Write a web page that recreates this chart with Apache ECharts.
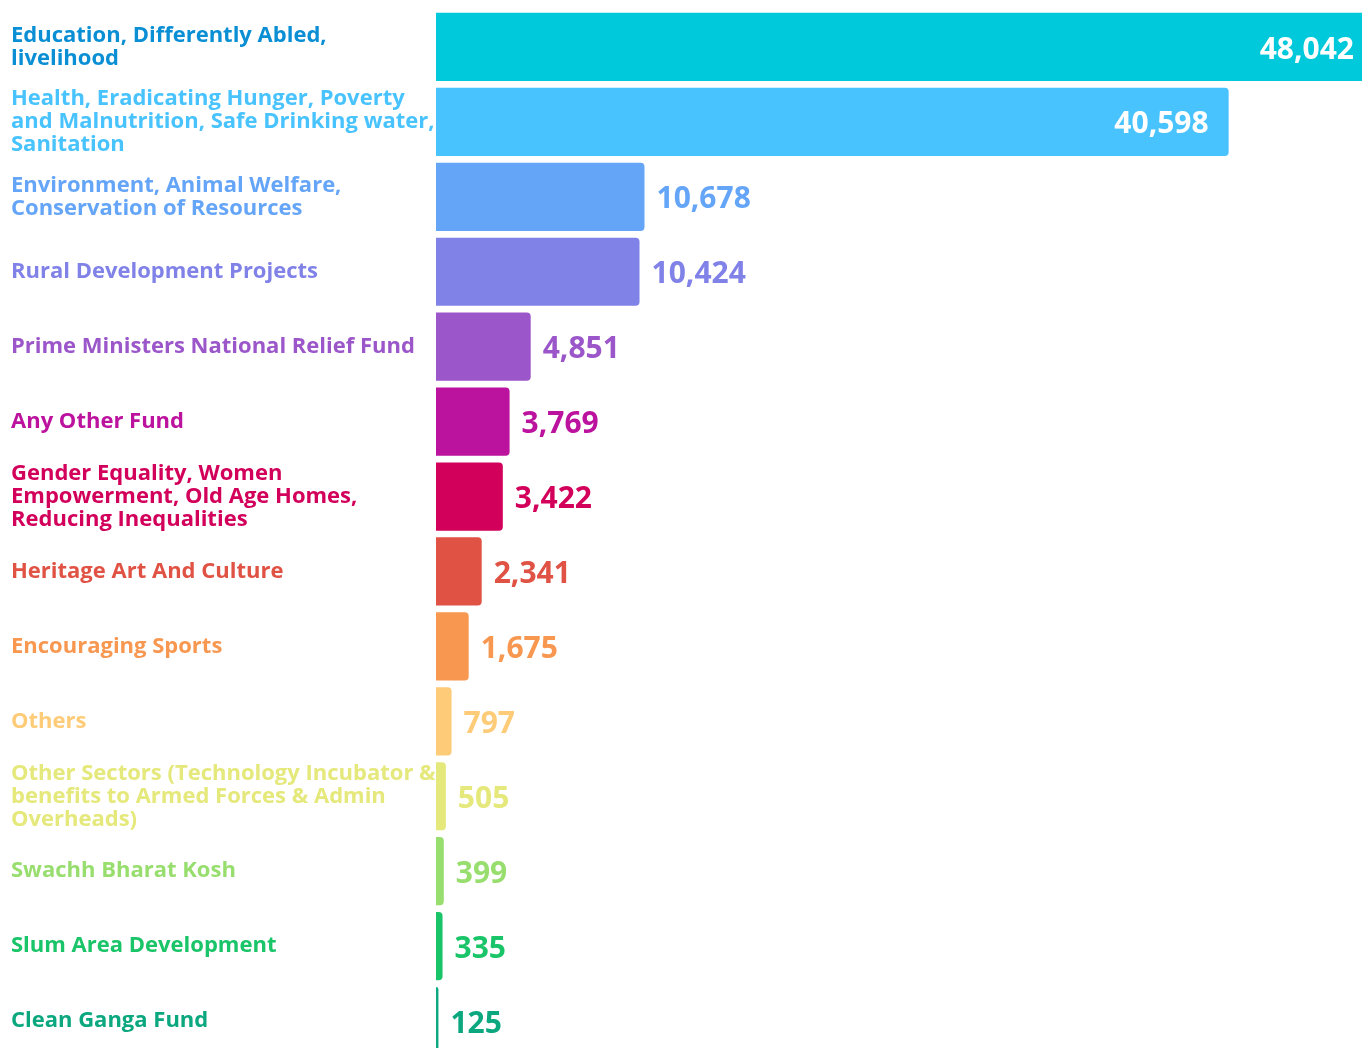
<!DOCTYPE html>
<html>
<head>
<meta charset="utf-8">
<style>
  html, body { margin: 0; padding: 0; background: #fff; }
  #chart { width: 1362px; height: 1048px; }
</style>
<script src="https://cdn.jsdelivr.net/npm/echarts@6/dist/echarts.min.js"></script>
</head>
<body>
<div id="chart"></div>
<script>
const categories = [
  'Education, Differently Abled,\nlivelihood',
  'Health, Eradicating Hunger, Poverty\nand Malnutrition, Safe Drinking water,\nSanitation',
  'Environment, Animal Welfare,\nConservation of Resources',
  'Rural Development Projects',
  'Prime Ministers National Relief Fund',
  'Any Other Fund',
  'Gender Equality, Women\nEmpowerment, Old Age Homes,\nReducing Inequalities',
  'Heritage Art And Culture',
  'Encouraging Sports',
  'Others',
  'Other Sectors (Technology Incubator &\nbenefits to Armed Forces & Admin\nOverheads)',
  'Swachh Bharat Kosh',
  'Slum Area Development',
  'Clean Ganga Fund'
]
const amounts = [48042, 40598, 10678, 10424, 4851, 3769, 3422, 2341, 1675, 797, 505, 399, 335, 125]
const barColors = ['#00C9DB', '#48C3FE', '#65A5F8', '#8082E8', '#9B56C9', '#BC139F', '#D2005A',
  '#E05244', '#F89750', '#FECB78', '#E5E87A', '#98DE6E', '#1AC468', '#0DAA82']
const textColors = ['#0A8FD4', '#48C3FE', '#65A5F8', '#8082E8', '#9B56C9', '#BC139F', '#D2005A',
  '#E05244', '#F89750', '#FECB78', '#E5E87A', '#98DE6E', '#1AC468', '#0BA77E']

const font = '"Open Sans", "DejaVu Sans", sans-serif'
const chart = echarts.init(document.getElementById('chart'))

// the biggest bar runs past the right edge of the page, so the grid is wider than the canvas
chart.setOption({
  animation: false,
  grid: { left: 436, top: 9.5, width: 938, height: 1049, outerBoundsMode: 'none' },
  xAxis: {
    type: 'value',
    min: 0,
    max: 'dataMax',
    show: false
  },
  yAxis: {
    type: 'category',
    inverse: true,
    data: categories,
    axisLine: { show: false },
    axisTick: { show: false },
    axisLabel: {
      align: 'left',
      margin: 425,
      fontFamily: font,
      fontWeight: 700,
      fontSize: 22,
      lineHeight: 23,
      color: (val, idx) => textColors[idx]
    }
  },
  series: [{
    type: 'bar',
    barCategoryGap: '9%',
    data: amounts.map((v, i) => ({
      value: v,
      itemStyle: { color: barColors[i], borderRadius: [0, 4, 4, 0] },
      label: i < 2
        ? { position: 'insideRight', color: '#fff', distance: 20 }
        : { position: 'right', color: textColors[i], distance: 12 }
    })),
    label: {
      show: true,
      fontFamily: font,
      fontWeight: 700,
      fontSize: 30,
      offset: [0, 3],
      formatter: (p) => p.value.toLocaleString('en-US')
    }
  }]
})
</script>
</body>
</html>
